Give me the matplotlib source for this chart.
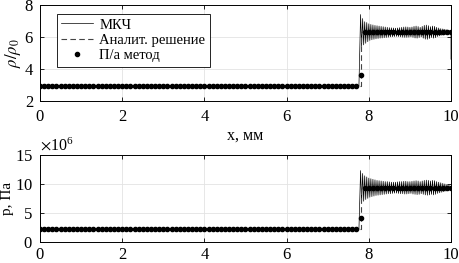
import numpy as np
import matplotlib
matplotlib.use('Agg')
import matplotlib.pyplot as plt

plt.rcParams['font.family'] = ['Liberation Serif', 'DejaVu Serif']
plt.rcParams['mathtext.fontset'] = 'stix'
plt.rcParams['font.size'] = 12

# ---- data ----
# flat part of the МКЧ solution before the shock
x_pre = [0.0, 7.76]
rho_pre = [2.92, 2.92]
p_pre = [2.14e6, 2.14e6]

# oscillating part after the shock, step 0.025 mm from 7.80 to 10.00
x_osc = np.linspace(7.80, 10.0, 89)
rho_osc = [7.40, 5.40, 7.15, 5.50, 6.95, 5.60, 6.90, 5.70, 6.82, 5.78,
           6.78, 5.82, 6.75, 5.85, 6.72, 5.88, 6.70, 5.90, 6.68, 5.92,
           6.66, 5.93, 6.64, 5.95, 6.62, 5.96, 6.60, 5.98, 6.58, 6.00,
           6.57, 6.01, 6.56, 6.02, 6.55, 6.03, 6.56, 6.02, 6.58, 6.00,
           6.60, 5.98, 6.62, 5.97, 6.63, 5.97, 6.62, 5.98, 6.60, 6.00,
           6.62, 5.97, 6.66, 5.93, 6.68, 5.92, 6.65, 5.96, 6.60, 6.00,
           6.66, 5.92, 6.72, 5.86, 6.74, 5.85, 6.70, 5.90, 6.64, 5.96,
           6.68, 5.92, 6.66, 5.95, 6.60, 6.02, 6.56, 6.06, 6.52, 6.10,
           6.50, 6.12, 6.48, 6.15, 6.45, 6.18, 6.42, 6.22, 6.40]
p_osc_m = [12.3, 6.7, 11.8, 7.0, 11.4, 7.3, 11.2, 7.5, 11.0, 7.7,
           10.9, 7.8, 10.8, 7.9, 10.7, 8.0, 10.6, 8.05, 10.55, 8.1,
           10.5, 8.15, 10.45, 8.2, 10.4, 8.25, 10.4, 8.3, 10.35, 8.3,
           10.3, 8.35, 10.3, 8.4, 10.3, 8.4, 10.35, 8.35, 10.4, 8.3,
           10.4, 8.3, 10.45, 8.25, 10.45, 8.25, 10.4, 8.3, 10.4, 8.35,
           10.45, 8.25, 10.5, 8.2, 10.55, 8.15, 10.5, 8.2, 10.4, 8.3,
           10.5, 8.2, 10.6, 8.1, 10.65, 8.05, 10.6, 8.1, 10.5, 8.2,
           10.6, 8.1, 10.55, 8.2, 10.4, 8.35, 10.3, 8.45, 10.2, 8.55,
           10.1, 8.65, 10.0, 8.75, 9.9, 8.85, 9.8, 8.95, 9.6]
# last point of density drops at the right boundary
x_end = [10.0]
rho_end = [4.6]

x_mkch = np.concatenate([x_pre, x_osc, x_end])
rho_mkch = np.concatenate([rho_pre, rho_osc, rho_end])
x_mkch_p = np.concatenate([x_pre, x_osc])
p_mkch = np.concatenate([p_pre, np.array(p_osc_m) * 1e6])

# analytic solution
x_an = [0.0, 7.8, 7.8, 10.0]
rho_an = [2.92, 2.92, 6.29, 6.29]
p_an = [2.14e6, 2.14e6, 9.34e6, 9.34e6]

# П/а метод, step 0.1 mm
x_pa = np.linspace(0, 10, 101)
rho_pa = [2.92] * 78 + [3.61] + [6.29] * 22
p_pa = [2.14e6] * 78 + [4.05e6] + [9.34e6] * 22

fig = plt.figure(figsize=(4.6, 2.63), dpi=100)
ax1 = fig.add_axes([40 / 460, 1 - 100.7 / 263, 411 / 460, 95.7 / 263])
ax2 = fig.add_axes([40 / 460, 1 - 241.7 / 263, 411 / 460, 86.7 / 263])


def style(ax, xpad):
    ax.grid(True, color='#e3e3e3', lw=0.6)
    ax.set_axisbelow(True)
    ax.tick_params(direction='in', top=True, right=True, length=3, width=0.6,
                   labelsize=12)
    ax.tick_params(axis='y', pad=5)
    ax.tick_params(axis='x', pad=xpad)
    for s in ax.spines.values():
        s.set_linewidth(0.7)
    ax.set_xlim(0, 10)
    ax.set_xticks([0, 2, 4, 6, 8, 10])


ax1.plot(x_mkch, rho_mkch, color='black', lw=0.5, label='МКЧ')
ax1.plot(x_an, rho_an, color='#444444', lw=0.8, ls=(0, (5, 3)), label='Аналит. решение')
ax1.plot(x_pa, rho_pa, 'o', color='black', ms=3, ls='none', label='П/а метод')
style(ax1, 6)
ax1.set_ylim(2, 8)
ax1.set_yticks([2, 4, 6, 8])
ax1.set_xlabel('x, мм', labelpad=2, fontsize=11.5)
ax1.set_ylabel(r'$\rho/\rho_0$', labelpad=1)
leg = ax1.legend(loc='upper left', bbox_to_anchor=(0.041, 0.906), borderaxespad=0,
                 fancybox=False, edgecolor='black', framealpha=1, handlelength=2.2,
                 fontsize=10.5, labelspacing=0.15, borderpad=0.3, handletextpad=0.4)
leg.get_frame().set_linewidth(0.6)

ax2.plot(x_mkch_p, p_mkch, color='black', lw=0.5)
ax2.plot(x_an, p_an, color='#444444', lw=0.8, ls=(0, (5, 3)))
ax2.plot(x_pa, p_pa, 'o', color='black', ms=3, ls='none')
style(ax2, 4)
ax2.set_ylim(0, 1.5e7)
ax2.set_yticks([0, 5e6, 1e7, 1.5e7])
ax2.ticklabel_format(axis='y', style='sci', scilimits=(6, 6), useMathText=True)
ax2.yaxis.get_offset_text().set_fontsize(11.5)
ax2.set_ylabel('p, Па', fontsize=11)
ax2.yaxis.set_label_coords(-0.063, 0.5)

fig.savefig('out.png', dpi=100)
